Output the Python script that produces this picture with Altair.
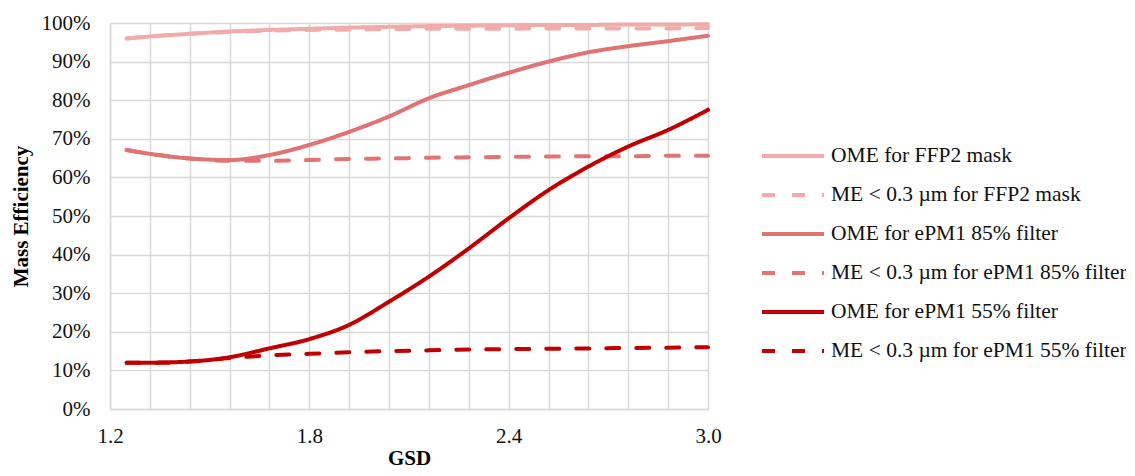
import altair as alt
import pandas as pd

gsd = [1.25, 1.32, 1.44, 1.56, 1.68, 1.80, 1.92, 2.04, 2.16, 2.28, 2.40, 2.52, 2.64, 2.76, 2.88, 3.00]

ome_ffp2 = [96.0, 96.5, 97.2, 97.8, 98.2, 98.5, 98.8, 99.0, 99.2, 99.3, 99.4, 99.5, 99.5, 99.6, 99.6, 99.7]
me_ffp2 = [96.0, 96.5, 97.2, 97.7, 98.0, 98.2, 98.3, 98.4, 98.5, 98.5, 98.5, 98.6, 98.6, 98.6, 98.6, 98.7]
ome_85 = [67.1, 66.1, 64.9, 64.5, 65.8, 68.4, 71.8, 75.8, 80.5, 83.9, 87.1, 90.0, 92.4, 94.0, 95.3, 96.7]
me_85 = [67.1, 66.1, 64.9, 64.3, 64.3, 64.5, 64.8, 64.9, 65.1, 65.2, 65.3, 65.4, 65.5, 65.5, 65.6, 65.6]
ome_55 = [12.0, 12.0, 12.3, 13.4, 15.7, 18.1, 21.8, 27.8, 34.3, 41.6, 49.4, 56.7, 62.8, 68.0, 72.3, 77.5]
me_55 = [12.0, 12.0, 12.3, 13.2, 13.9, 14.3, 14.7, 15.0, 15.2, 15.4, 15.5, 15.6, 15.7, 15.8, 15.9, 16.0]

series_names = [
    "OME for FFP2 mask",
    "ME < 0.3 \u00b5m for FFP2 mask",
    "OME for ePM1 85% filter",
    "ME < 0.3 \u00b5m for ePM1 85% filter",
    "OME for ePM1 55% filter",
    "ME < 0.3 \u00b5m for ePM1 55% filter",
]
series_values = [ome_ffp2, me_ffp2, ome_85, me_85, ome_55, me_55]
colors = ["#f2abab", "#f2abab", "#e07474", "#e07474", "#c00000", "#c00000"]
dashes = [[1, 0], [13, 17], [1, 0], [13, 17], [1, 0], [13, 17]]

grid_x = [1.2, 1.32, 1.44, 1.56, 1.68, 1.8, 1.92, 2.04, 2.16, 2.28, 2.4, 2.52, 2.64, 2.76, 2.88, 3.0]
x_labels = ["1.20", "1.80", "2.40", "3.00"]
y_ticks = [0, 10, 20, 30, 40, 50, 60, 70, 80, 90, 100]

rows = []
for i, (name, vals) in enumerate(zip(series_names, series_values)):
    for g, v in zip(gsd, vals):
        rows.append({"series": name, "order": i, "gsd": g, "value": v})
df = pd.DataFrame(rows)

FONT = "Liberation Serif"
label_list = "[" + ",".join("'" + s + "'" for s in x_labels) + "]"

chart = (
    alt.Chart(df)
    .mark_line(interpolate="monotone", strokeWidth=4, strokeCap="round")
    .encode(
        x=alt.X(
            "gsd:Q",
            scale=alt.Scale(domain=[1.2, 3.0], nice=False, zero=False),
            axis=alt.Axis(
                title="GSD",
                values=grid_x,
                labelExpr="indexof(" + label_list + ", format(datum.value, '.2f')) >= 0 ? format(datum.value, '.1f') : ''",
                labelFlush=False,
                labelPadding=16,
                titlePadding=1,
            ),
        ),
        y=alt.Y(
            "value:Q",
            scale=alt.Scale(domain=[0, 100], nice=False),
            axis=alt.Axis(
                title="Mass Efficiency",
                values=y_ticks,
                labelExpr="datum.value + '%'",
                labelPadding=20,
                titlePadding=10,
            ),
        ),
        color=alt.Color(
            "series:N",
            scale=alt.Scale(domain=series_names, range=colors),
            legend=alt.Legend(title=None),
        ),
        strokeDash=alt.StrokeDash(
            "series:N",
            scale=alt.Scale(domain=series_names, range=dashes),
            legend=alt.Legend(title=None),
        ),
        order=alt.Order("order:Q"),
        detail="series:N",
    )
    .properties(
        width=598,
        height=386,
        autosize=alt.AutoSizeParams(type="none"),
        padding={"left": 102, "top": 15, "right": 418, "bottom": 59},
    )
    .configure_view(stroke=None)
    .configure_axis(
        grid=True,
        gridColor="#d9d9d9",
        gridWidth=1.5,
        domainColor="#d9d9d9",
        domainWidth=1.5,
        ticks=False,
        labelFont=FONT,
        labelFontSize=21,
        labelColor="#111111",
        titleFont=FONT,
        titleFontSize=21,
        titleFontWeight="bold",
        titleColor="#000000",
    )
    .configure_legend(
        orient="none",
        legendX=650,
        legendY=122,
        symbolType="stroke",
        symbolSize=3844,
        symbolStrokeWidth=4,
        labelFont=FONT,
        labelFontSize=21.5,
        labelColor="#111111",
        labelOffset=5,
        clipHeight=22,
        rowPadding=17,
        labelLimit=400,
    )
)

chart.save("out.html", embed_options={"renderer": "svg", "actions": False})
